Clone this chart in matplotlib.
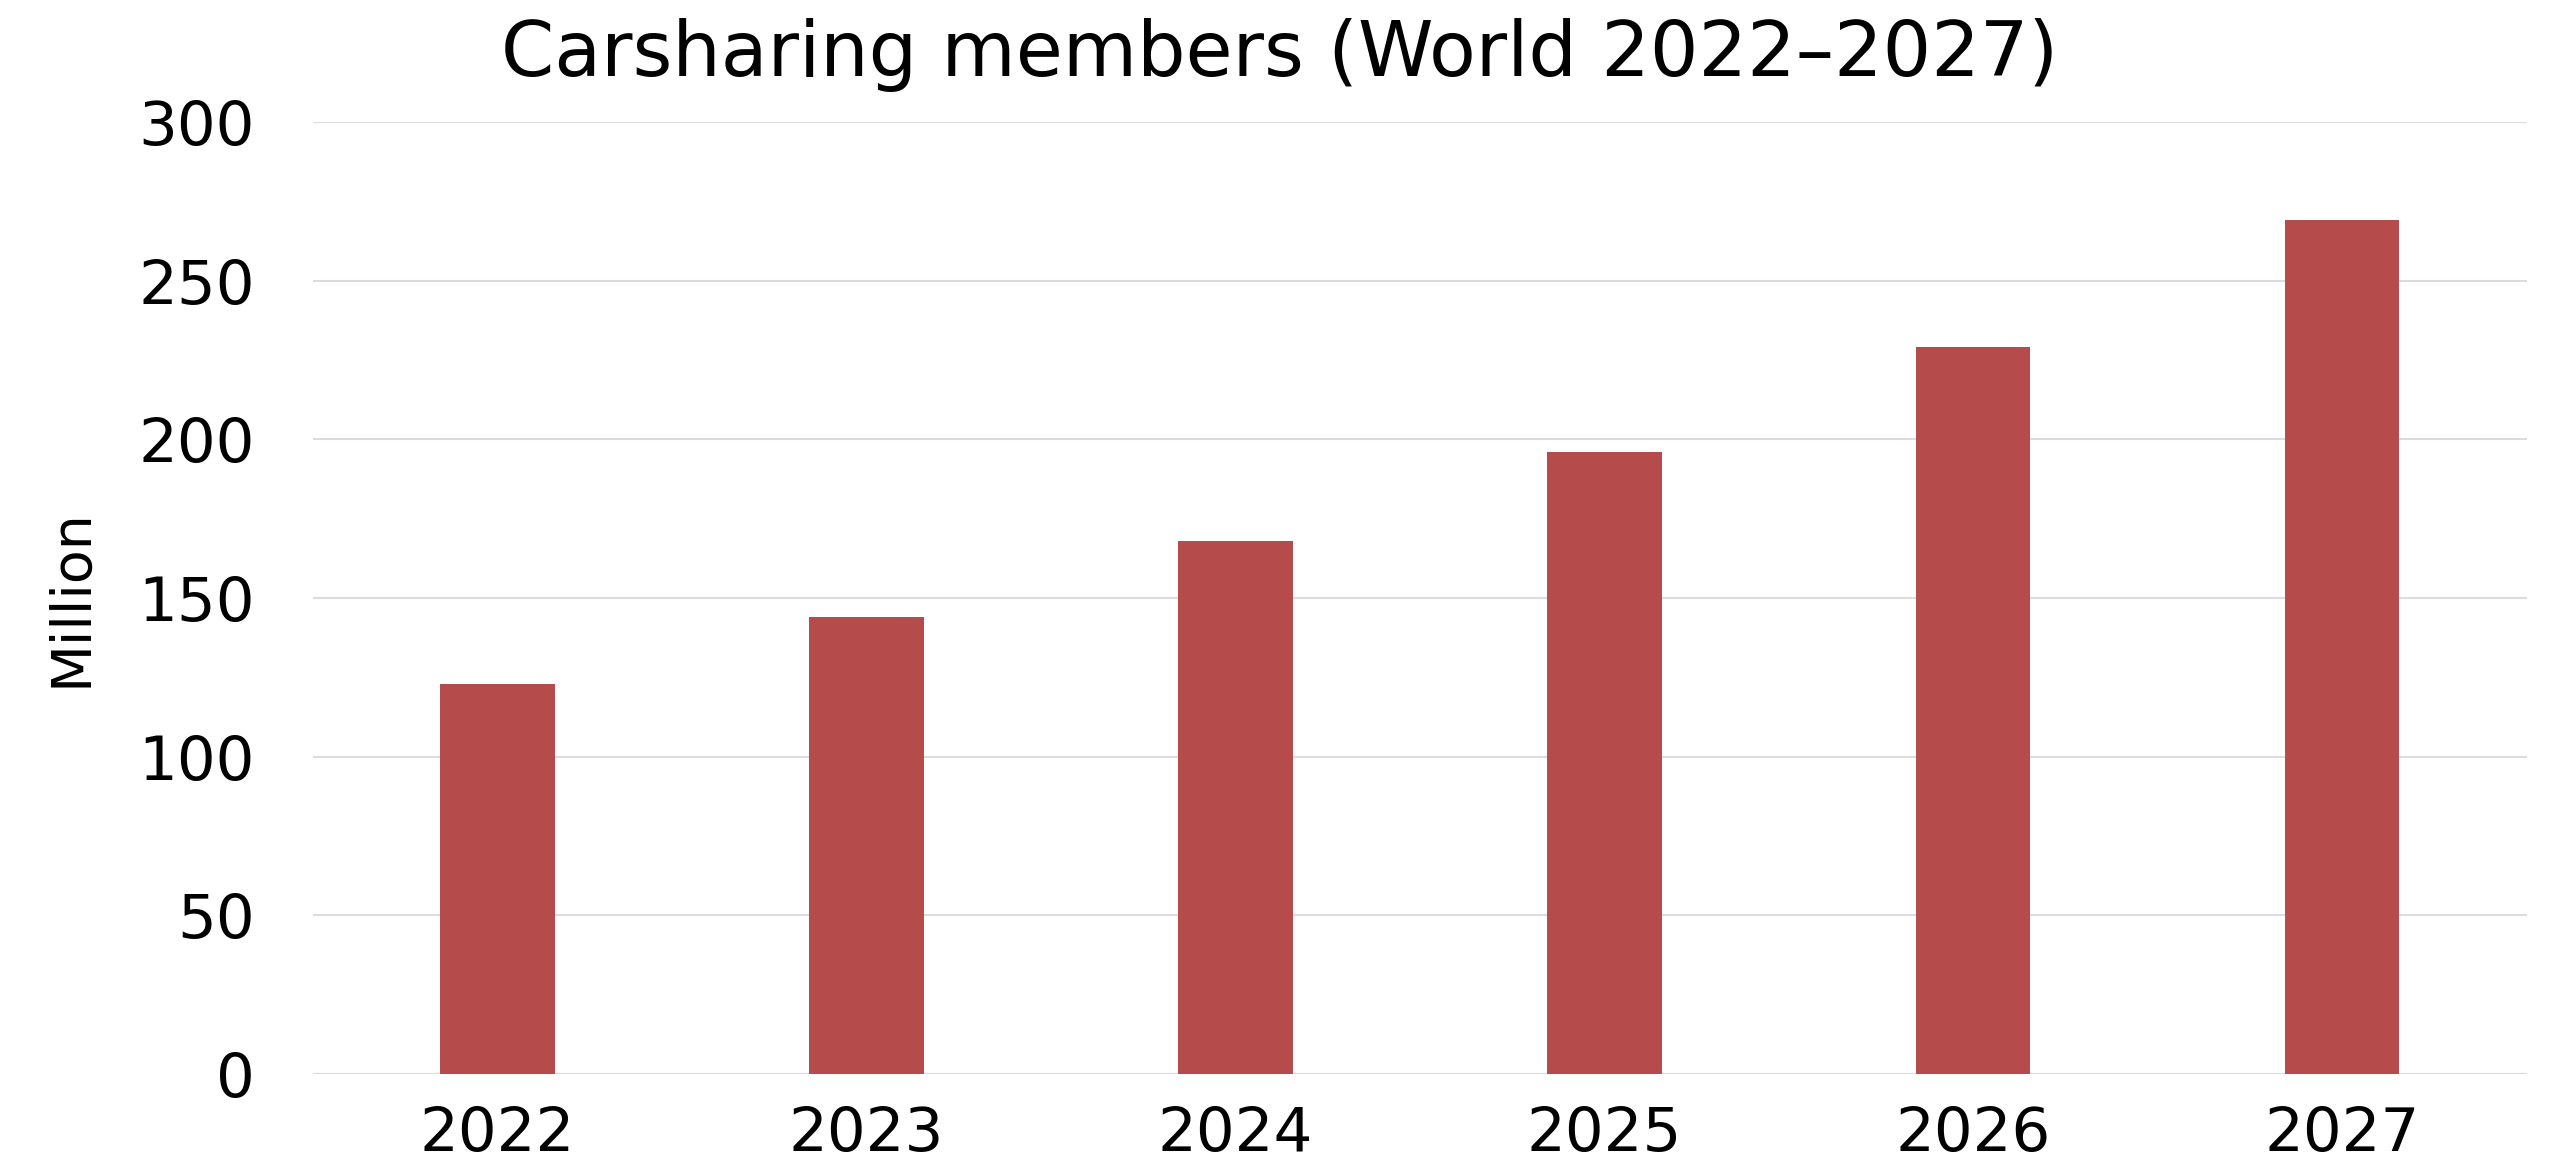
import numpy as np
import matplotlib.pyplot as plt

years = ["2022", "2023", "2024", "2025", "2026", "2027"]
members = [123, 144, 168, 196, 229, 269]
yticks = [0, 50, 100, 150, 200, 250, 300]

plt.rcParams['font.family'] = ['DejaVu Sans']

fig = plt.figure(figsize=(25.6, 11.74), dpi=100)
ax = fig.add_axes([0.1223, 0.0852, 0.8647, 0.8108])

x = np.arange(len(years))
ax.bar(x, members, width=0.31, color="#B54C4B", zorder=3)

ax.set_xlim(-0.5, len(years) - 0.5)
ax.set_ylim(0, 300)
ax.set_yticks(yticks)
ax.set_xticks(x)
ax.set_xticklabels(years)
ax.tick_params(axis='y', length=0, pad=42, labelsize=44)
ax.tick_params(axis='x', length=0, pad=22, labelsize=44)
ax.grid(axis='y', color="#DCDCDC", linewidth=1.5, zorder=0)
for s in ax.spines.values():
    s.set_visible(False)

ax.set_ylabel("Million", fontsize=40)
ax.yaxis.set_label_coords(-0.097, 0.5)
fig.suptitle("Carsharing members (World 2022\u20132027)", fontsize=55, x=0.5, y=0.985, va='top')

fig.savefig("out.png", dpi=100)
